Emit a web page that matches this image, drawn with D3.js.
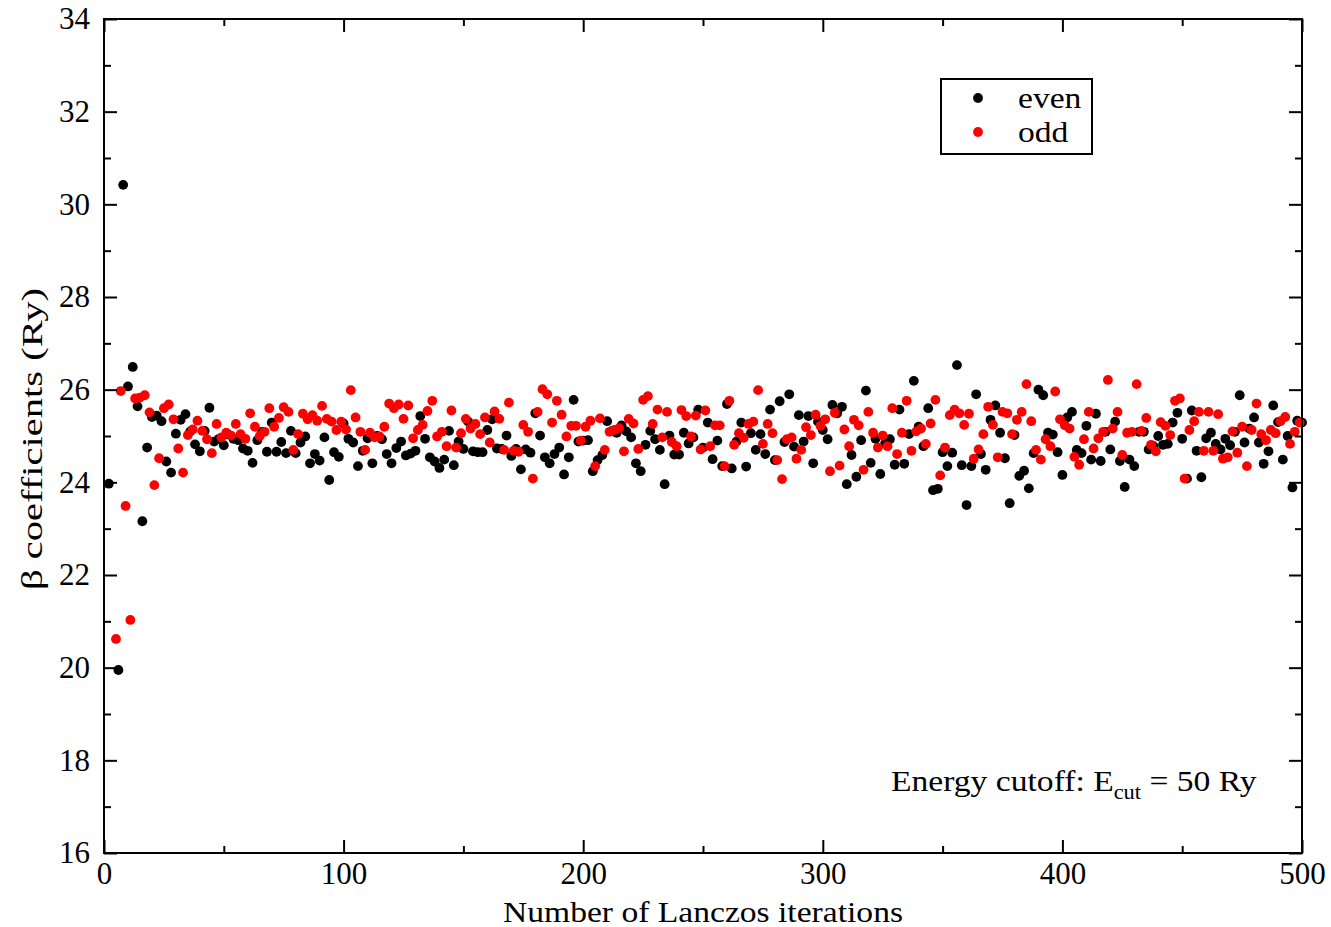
<!DOCTYPE html>
<html lang="en">
<head>
<meta charset="UTF-8">
<title>Lanczos beta coefficients</title>
<script src="https://cdn.jsdelivr.net/npm/d3@7"></script>
<style>
  body { margin: 0; background: #fff; }
  svg text { font-family: "Liberation Serif", "DejaVu Serif", serif; fill: #000; }
</style>
</head>
<body>
<svg id="chart" width="1331" height="927"></svg>
<script>
// beta coefficients for even iterations 2,4,...,500 (null = not visible)
const evenBeta = [
  23.97, null, 19.95, 30.42, 26.07, 26.49, 25.64, 23.16, 24.75, 25.41,
  25.44, 25.32, 24.45, 24.21, 25.05, 25.35, 25.47, 25.10, 24.82, 24.67,
  25.11, 25.61, 24.88, 24.94, 24.80, 25.03, 24.94, 24.91, 24.73, 24.68,
  24.42, 24.91, 25.09, 24.66, 25.29, 24.66, 24.87, 24.63, 25.11, 24.63,
  24.86, 24.99, 24.41, 24.61, 24.47, 24.97, 24.05, 24.65, 24.55, 25.27,
  24.94, 24.86, 24.35, 24.68, 24.95, 24.41, 25.00, 24.93, 24.61, 24.41,
  24.74, 24.88, 24.58, 24.62, 24.68, 25.43, 24.94, 24.54, 24.45, 24.31,
  24.49, 25.11, 24.37, 24.88, 24.72, 25.31, 24.67, 24.65, 24.65, 25.13,
  25.36, 24.73, 24.72, 25.01, 24.57, 24.72, 24.28, 24.71, 24.64, 25.49,
  25.01, 24.54, 24.41, 24.61, 24.75, 24.17, 24.54, 25.78, 24.88, 24.90,
  24.91, 24.24, 24.48, 24.59, 25.32, 25.11, 25.07, 25.23, 25.10, 24.97,
  24.41, 24.24, 24.81, 25.11, 24.93, 24.70, 23.96, 25.01, 24.60, 24.60,
  25.07, 24.84, 24.97, 25.57, 24.75, 25.29, 24.50, 24.90, 24.35, 25.69,
  24.30, 24.88, 25.29, 24.34, 25.06, 24.70, 25.04, 24.61, 25.57, 24.48,
  25.75, 24.87, 25.90, 24.77, 25.45, 24.88, 25.43, 24.41, 25.31, 25.13,
  24.93, 25.67, 25.49, 25.63, 23.96, 24.59, 24.12, 24.91, 25.98, 24.42,
  24.94, 24.18, 24.84, 24.93, 24.38, 25.57, 24.40, 25.04, 26.19, 25.20,
  24.78, 25.60, 23.83, 23.86, 24.65, 24.35, 24.64, 26.53, 24.37, 23.51,
  24.35, 25.90, 24.61, 24.27, 25.35, 25.66, 25.07, 24.52, 23.55, 25.02,
  24.14, 24.25, 23.87, 24.63, 26.00, 25.88, 25.07, 25.03, 24.65, 24.16,
  25.40, 25.52, 24.70, 24.63, 25.22, 24.49, 25.48, 24.46, 25.09, 24.71,
  25.31, 24.46, 23.90, 24.49, 24.35, 25.09, 25.09, 24.71, 24.78, 25.00,
  24.81, 24.83, 25.29, 25.50, 24.94, 24.08, 25.55, 24.68, 24.11, 24.95,
  25.07, 24.83, 24.71, 24.94, 24.80, 25.09, 25.88, 24.86, 25.16, 25.40,
  24.86, 24.40, 24.67, 25.66, 25.30, 24.49, 25.00, 23.89, 25.33, 25.29
];

// beta coefficients for odd iterations 1,3,...,499
const oddBeta = [
  null, null, 20.62, 25.97, 23.49, 21.03, 25.81, 25.83, 25.88, 25.51,
  23.94, 24.52, 25.60, 25.68, 25.36, 24.73, 24.21, 25.02, 25.14, 25.33,
  25.11, 24.93, 24.63, 25.26, 24.97, 25.07, 25.01, 25.26, 25.04, 24.94,
  25.49, 25.20, 25.00, 25.09, 25.60, 25.20, 25.39, 25.62, 25.52, 24.70,
  25.04, 25.48, 25.36, 25.45, 25.33, 25.65, 25.37, 25.31, 25.13, 25.31,
  25.14, 25.99, 25.40, 25.09, 24.70, 25.07, 24.97, 24.99, 25.20, 25.70,
  25.60, 25.68, 25.37, 25.66, 24.95, 25.13, 25.24, 25.54, 25.76, 24.99,
  25.09, 24.78, 25.55, 24.75, 25.06, 25.37, 25.16, 25.26, 25.04, 25.40,
  24.86, 25.53, 25.37, 24.70, 25.72, 24.68, 24.66, 25.24, 25.09, 24.08,
  25.52, 26.01, 25.90, 25.29, 25.76, 25.46, 24.99, 25.22, 25.22, 24.90,
  25.20, 25.33, 24.35, 25.38, 24.70, 25.09, 25.13, 25.17, 24.67, 25.37,
  25.27, 24.72, 25.78, 25.86, 25.26, 25.57, 24.97, 25.52, 24.87, 24.78,
  25.56, 25.43, 24.99, 25.44, 24.71, 25.55, 24.78, 25.23, 25.23, 24.35,
  25.76, 24.81, 25.06, 24.96, 25.26, 25.31, 25.99, 24.83, 25.26, 25.06,
  24.48, 24.07, 24.93, 24.97, 24.51, 24.70, 25.19, 25.02, 25.46, 25.22,
  25.36, 24.24, 25.50, 24.36, 25.14, 24.78, 25.35, 25.23, 24.27, 25.52,
  25.07, 24.75, 25.01, 24.78, 25.60, 24.61, 25.07, 25.76, 24.68, 25.10,
  25.16, 24.83, 25.27, 25.78, 24.15, 24.75, 25.45, 25.57, 25.49, 25.24,
  25.48, 24.51, 24.71, 25.04, 25.63, 25.24, 24.54, 25.52, 25.49, 25.04,
  25.35, 25.52, 26.12, 25.32, 24.70, 24.49, 24.93, 24.78, 25.96, 25.36,
  25.23, 25.16, 24.55, 24.38, 24.93, 25.52, 24.73, 24.95, 25.09, 26.21,
  25.16, 25.52, 24.59, 25.07, 25.09, 26.12, 25.11, 25.39, 24.81, 24.67,
  25.30, 25.22, 25.02, 25.76, 25.81, 24.08, 25.13, 25.32, 25.52, 24.68,
  25.52, 24.68, 25.47, 24.51, 24.54, 25.10, 24.64, 25.20, 24.35, 25.13,
  25.70, 25.04, 24.91, 25.13, 25.06, 25.32, 25.41, 24.83, 25.09, 25.29
];

const xTicks = [0, 100, 200, 300, 400, 500];
const xMinor = [50, 150, 250, 350, 450];
const yTicks = [16, 18, 20, 22, 24, 26, 28, 30, 32, 34];
const yMinor = [17, 19, 21, 23, 25, 27, 29, 31, 33];
const seriesNames = ["even", "odd"];
const seriesColors = ["#000000", "#ff0000"];

const svg = d3.select("#chart");
const margin = { left: 104, top: 19, right: 29, bottom: 74 };
const W = 1331 - margin.left - margin.right;
const H = 927 - margin.top - margin.bottom;

const x = d3.scaleLinear().domain([0, 500]).range([0, W]);
const y = d3.scaleLinear().domain([16, 34]).range([H, 0]);

const g = svg.append("g").attr("transform", `translate(${margin.left},${margin.top})`);

// points, odd drawn on top of even
const evenPts = evenBeta.map((v, k) => ({ it: 2 + 2 * k, v })).filter(d => d.v != null);
const oddPts = oddBeta.map((v, k) => ({ it: 1 + 2 * k, v })).filter(d => d.v != null);

[evenPts, oddPts].forEach((pts, s) => {
  g.append("g").selectAll("circle").data(pts)
    .enter().append("circle")
    .attr("cx", d => x(d.it))
    .attr("cy", d => y(d.v))
    .attr("r", 4.9)
    .attr("fill", seriesColors[s]);
});

// axes, xmgrace style: ticks inward on all four sides
const major = 13, minor = 7;
function styleAxis(sel) {
  sel.select(".domain").remove();
  sel.selectAll(".tick line").attr("stroke", "#000").attr("stroke-width", 2);
  sel.selectAll(".tick text").attr("font-size", 31).attr("font-family", "Liberation Serif, serif");
}

g.append("g").attr("transform", `translate(0,${H})`)
  .call(d3.axisBottom(x).tickValues(xTicks).tickSize(-major).tickPadding(9))
  .call(styleAxis);
g.append("g").attr("transform", `translate(0,${H})`)
  .call(d3.axisBottom(x).tickValues(xMinor).tickSize(-minor).tickFormat(""))
  .call(styleAxis);
g.append("g")
  .call(d3.axisTop(x).tickValues(xTicks).tickSize(-major).tickFormat(""))
  .call(styleAxis);
g.append("g")
  .call(d3.axisTop(x).tickValues(xMinor).tickSize(-minor).tickFormat(""))
  .call(styleAxis);

g.append("g")
  .call(d3.axisLeft(y).tickValues(yTicks).tickSize(-major).tickPadding(14))
  .call(styleAxis);
g.append("g")
  .call(d3.axisLeft(y).tickValues(yMinor).tickSize(-minor).tickFormat(""))
  .call(styleAxis);
g.append("g").attr("transform", `translate(${W},0)`)
  .call(d3.axisRight(y).tickValues(yTicks).tickSize(-major).tickFormat(""))
  .call(styleAxis);
g.append("g").attr("transform", `translate(${W},0)`)
  .call(d3.axisRight(y).tickValues(yMinor).tickSize(-minor).tickFormat(""))
  .call(styleAxis);

// frame
g.append("rect")
  .attr("width", W).attr("height", H)
  .attr("fill", "none").attr("stroke", "#000").attr("stroke-width", 2);

// axis titles
svg.append("text")
  .attr("x", 503).attr("y", 922)
  .attr("font-size", 30)
  .attr("textLength", 400).attr("lengthAdjust", "spacingAndGlyphs")
  .text("Number of Lanczos iterations");

svg.append("text")
  .attr("transform", "translate(42,590) rotate(-90)")
  .attr("font-size", 30)
  .attr("textLength", 302).attr("lengthAdjust", "spacingAndGlyphs")
  .text("β coefficients (Ry)");

// legend
const leg = svg.append("g").attr("transform", "translate(941,79)");
leg.append("rect").attr("width", 151).attr("height", 75)
  .attr("fill", "#fff").attr("stroke", "#000").attr("stroke-width", 2);
seriesNames.forEach((name, i) => {
  leg.append("circle").attr("cx", 37).attr("cy", 19 + i * 34).attr("r", 4.9)
    .attr("fill", seriesColors[i]);
  leg.append("text").attr("x", 77).attr("y", 29 + i * 34)
    .attr("font-size", 30)
    .attr("transform", `translate(${77 * -0.12},0) scale(1.12,1)`)
    .text(name);
});

// annotation
const note = svg.append("text")
  .attr("x", 0).attr("y", 0).attr("font-size", 30)
  .attr("transform", "translate(891,791) scale(1.12,1)");
note.append("tspan").text("Energy cutoff: E");
note.append("tspan").attr("font-size", 20).attr("dy", 8).text("cut");
note.append("tspan").attr("dy", -8).text(" = 50 Ry");
</script>
</body>
</html>
